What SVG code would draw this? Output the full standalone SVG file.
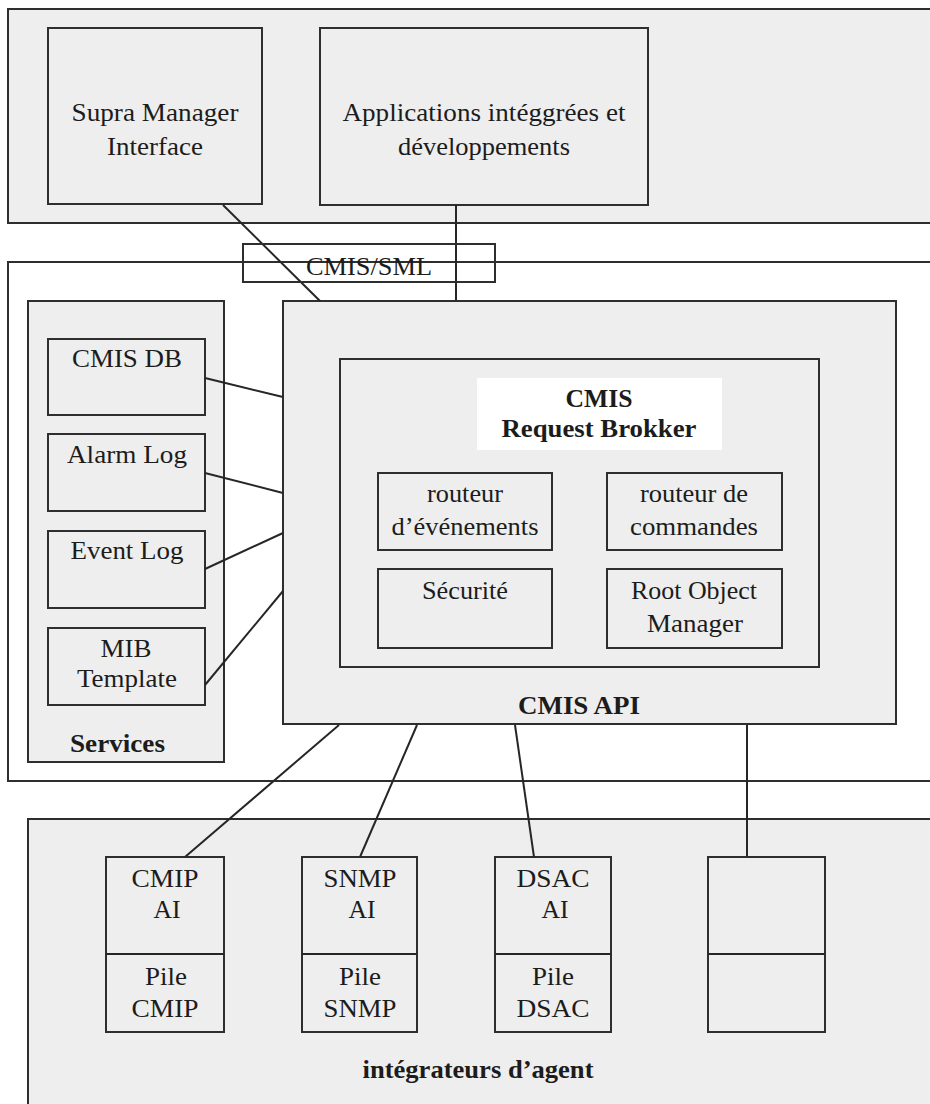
<svg xmlns="http://www.w3.org/2000/svg" width="930" height="1104" viewBox="0 0 930 1104">
<style>
.box{fill:#eeeeee;stroke:#2e2e2e;stroke-width:2}
.open{fill:none;stroke:#2e2e2e;stroke-width:2}
.white{fill:#ffffff;stroke:none}
.ln{stroke:#262626;stroke-width:2;fill:none}
text{font-family:"Liberation Serif","Times New Roman",serif;font-size:26px;fill:#1c1c1c;text-anchor:middle}
.b{font-weight:bold}
</style>
<rect width="930" height="1104" fill="#ffffff"/>

<g id="top-area">
<rect class="box" x="8" y="9" width="940" height="214"/>
</g>
<g id="middle-area">
<rect class="open" x="8" y="262" width="940" height="519"/>
</g>
<g id="bottom-area">
<rect class="box" x="28" y="819" width="920" height="300"/>
<text class="b" x="478" y="1078" textLength="231" lengthAdjust="spacingAndGlyphs">intégrateurs d’agent</text>
</g>

<g id="supra-manager">
<rect class="box" x="48" y="28" width="214" height="176"/>
<text x="155" y="121" textLength="167" lengthAdjust="spacingAndGlyphs">Supra Manager</text>
<text x="155" y="155" textLength="96" lengthAdjust="spacingAndGlyphs">Interface</text>
</g>
<g id="applications">
<rect class="box" x="320" y="28" width="328" height="177"/>
<text x="484" y="121" textLength="283" lengthAdjust="spacingAndGlyphs">Applications intéggrées et</text>
<text x="484" y="155" textLength="172" lengthAdjust="spacingAndGlyphs">développements</text>
</g>

<g id="services">
<rect class="box" x="28" y="301" width="196" height="461"/>
<text class="b" x="70" y="752" style="text-anchor:start" textLength="95" lengthAdjust="spacingAndGlyphs">Services</text>
</g>
<g id="cmis-db">
<rect class="box" x="48" y="339" width="157" height="76"/>
<text x="127" y="367" textLength="110" lengthAdjust="spacingAndGlyphs">CMIS DB</text>
</g>
<g id="alarm-log">
<rect class="box" x="48" y="434" width="157" height="77"/>
<text x="127" y="463" textLength="120" lengthAdjust="spacingAndGlyphs">Alarm Log</text>
</g>
<g id="event-log">
<rect class="box" x="48" y="531" width="157" height="77"/>
<text x="127" y="559" textLength="113" lengthAdjust="spacingAndGlyphs">Event Log</text>
</g>
<g id="mib-template">
<rect class="box" x="48" y="628" width="157" height="77"/>
<text x="126" y="657" textLength="51" lengthAdjust="spacingAndGlyphs">MIB</text>
<text x="127" y="687" textLength="100" lengthAdjust="spacingAndGlyphs">Template</text>
</g>

<g id="cmis-api">
<rect class="box" x="283" y="301" width="613" height="423"/>
<text class="b" x="579" y="714" textLength="122" lengthAdjust="spacingAndGlyphs">CMIS API</text>
</g>
<g id="request-brokker">
<rect class="box" x="340" y="359" width="479" height="308"/>
<rect class="white" x="477" y="378" width="245" height="72"/>
<text class="b" x="599" y="407" textLength="67" lengthAdjust="spacingAndGlyphs">CMIS</text>
<text class="b" x="599" y="437" textLength="195" lengthAdjust="spacingAndGlyphs">Request Brokker</text>
</g>
<g id="routeur-evenements">
<rect class="box" x="378" y="473" width="174" height="77"/>
<text x="465" y="502" textLength="76" lengthAdjust="spacingAndGlyphs">routeur</text>
<text x="465" y="535" textLength="147" lengthAdjust="spacingAndGlyphs">d’événements</text>
</g>
<g id="routeur-commandes">
<rect class="box" x="607" y="473" width="175" height="77"/>
<text x="694" y="502" textLength="108" lengthAdjust="spacingAndGlyphs">routeur de</text>
<text x="694" y="535" textLength="128" lengthAdjust="spacingAndGlyphs">commandes</text>
</g>
<g id="securite">
<rect class="box" x="378" y="569" width="174" height="79"/>
<text x="465" y="599" textLength="86" lengthAdjust="spacingAndGlyphs">Sécurité</text>
</g>
<g id="root-object-manager">
<rect class="box" x="607" y="569" width="175" height="79"/>
<text x="694" y="599" textLength="126" lengthAdjust="spacingAndGlyphs">Root Object</text>
<text x="695" y="632" textLength="96" lengthAdjust="spacingAndGlyphs">Manager</text>
</g>

<g id="cmip">
<rect class="box" x="106" y="857" width="118" height="175"/>
<line class="ln" x1="106" y1="954" x2="224" y2="954"/>
<text x="165" y="887" textLength="67" lengthAdjust="spacingAndGlyphs">CMIP</text>
<text x="167" y="918" textLength="27" lengthAdjust="spacingAndGlyphs">AI</text>
<text x="166" y="985" textLength="42" lengthAdjust="spacingAndGlyphs">Pile</text>
<text x="165" y="1017" textLength="67" lengthAdjust="spacingAndGlyphs">CMIP</text>
</g>
<g id="snmp">
<rect class="box" x="302" y="857" width="115" height="175"/>
<line class="ln" x1="302" y1="954" x2="417" y2="954"/>
<text x="360" y="887" textLength="73" lengthAdjust="spacingAndGlyphs">SNMP</text>
<text x="362" y="918" textLength="27" lengthAdjust="spacingAndGlyphs">AI</text>
<text x="360" y="985" textLength="42" lengthAdjust="spacingAndGlyphs">Pile</text>
<text x="360" y="1017" textLength="73" lengthAdjust="spacingAndGlyphs">SNMP</text>
</g>
<g id="dsac">
<rect class="box" x="495" y="857" width="116" height="175"/>
<line class="ln" x1="495" y1="954" x2="611" y2="954"/>
<text x="553" y="887" textLength="73" lengthAdjust="spacingAndGlyphs">DSAC</text>
<text x="555" y="918" textLength="27" lengthAdjust="spacingAndGlyphs">AI</text>
<text x="553" y="985" textLength="42" lengthAdjust="spacingAndGlyphs">Pile</text>
<text x="553" y="1017" textLength="73" lengthAdjust="spacingAndGlyphs">DSAC</text>
</g>
<g id="empty-agent">
<rect class="box" x="708" y="857" width="117" height="175"/>
<line class="ln" x1="708" y1="954" x2="825" y2="954"/>
</g>

<g id="connectors">
<line class="ln" x1="223" y1="205" x2="320" y2="301"/>
<line class="ln" x1="456" y1="205" x2="456" y2="301"/>
<line class="ln" x1="205" y1="378" x2="283" y2="397"/>
<line class="ln" x1="205" y1="473" x2="283" y2="493"/>
<line class="ln" x1="205" y1="569" x2="283" y2="533"/>
<line class="ln" x1="205" y1="685" x2="283" y2="591"/>
<line class="ln" x1="339" y1="725" x2="185" y2="857"/>
<line class="ln" x1="417" y1="725" x2="360" y2="857"/>
<line class="ln" x1="515" y1="725" x2="534" y2="857"/>
<line class="ln" x1="747" y1="725" x2="747" y2="857"/>
</g>

<g id="cmis-sml">
<rect class="open" x="243" y="244" width="252" height="38"/>
<text x="369" y="275" textLength="126" lengthAdjust="spacingAndGlyphs">CMIS/SML</text>
</g>
</svg>
